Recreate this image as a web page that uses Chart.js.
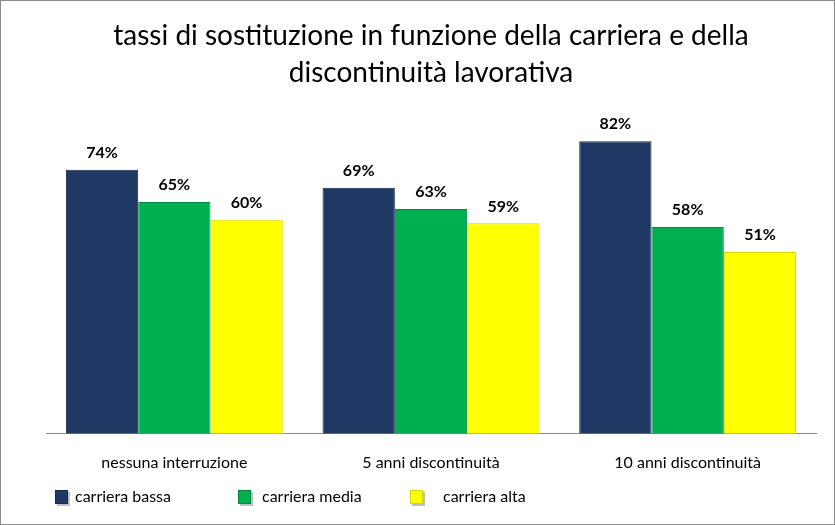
<!DOCTYPE html>
<html>
<head>
<meta charset="utf-8">
<script src="https://cdn.jsdelivr.net/npm/chart.js@4"></script>
<style>
  html, body { margin: 0; padding: 0; background: #fff; }
  #wrap { position: relative; width: 833px; height: 523px; border: 1px solid #8c8c8c; }
</style>
</head>
<body>
<div id="wrap"><canvas id="chart" width="833" height="523"></canvas></div>
<script>
// ---- DATA ----
const categories = ["nessuna interruzione", "5 anni discontinuità", "10 anni discontinuità"];
const seriesNames = ["carriera bassa", "carriera media", "carriera alta"];
const bassa = [74, 69, 82];
const media = [65, 63, 58];
const alta = [60, 59, 51];
const colors = ["#1f3864", "#00b050", "#ffff00"];
const borders = ["#16294a", "#00893f", "#d6d600"];

const FONT = "Lato, 'Liberation Sans', sans-serif";

// value labels over every bar
const valueLabels = {
  id: "valueLabels",
  afterDatasetsDraw(chart) {
    const ctx = chart.ctx;
    ctx.save();
    ctx.font = "bold 16px " + FONT;
    ctx.fillStyle = "#000";
    ctx.textAlign = "center";
    ctx.textBaseline = "bottom";
    chart.data.datasets.forEach((ds, i) => {
      chart.getDatasetMeta(i).data.forEach((bar, j) => {
        ctx.fillText(ds.data[j] + "%", bar.x, bar.y - 9);
      });
    });
    ctx.restore();
  }
};

// legend drawn by hand, spaced like the original
const sketchLegend = {
  id: "sketchLegend",
  afterDraw(chart) {
    const ctx = chart.ctx;
    const xs = [54, 237, 409];
    const txt = [74, 261, 442];
    const y = 497;
    ctx.save();
    chart.data.datasets.forEach((ds, i) => {
      ctx.fillStyle = "rgba(0,0,0,0.25)";
      ctx.fillRect(xs[i] + 2, y - 6, 13, 14);
      ctx.fillStyle = ds.backgroundColor;
      ctx.fillRect(xs[i], y - 8, 13, 14);
      ctx.strokeStyle = ds.borderColor;
      ctx.lineWidth = 1;
      ctx.strokeRect(xs[i] + 0.5, y - 7.5, 12, 13);
      ctx.font = "16px " + FONT;
      ctx.fillStyle = "#000";
      ctx.textBaseline = "middle";
      ctx.fillText(ds.label, txt[i], y - 1);
    });
    ctx.restore();
  }
};

new Chart(document.getElementById("chart"), {
  type: "bar",
  data: {
    labels: categories,
    datasets: [bassa, media, alta].map((vals, i) => ({
      label: seriesNames[i],
      data: vals,
      backgroundColor: colors[i],
      borderColor: borders[i],
      borderWidth: 1,
      barPercentage: 1,
      categoryPercentage: 0.845
    }))
  },
  options: {
    responsive: false,
    animation: false,
    devicePixelRatio: 1,
    layout: { padding: { left: 45, right: 18, top: 0, bottom: 33 } },
    plugins: {
      legend: { display: false },
      tooltip: { enabled: false },
      title: {
        display: true,
        text: ["tassi di sostituzione in funzione della carriera e della", "discontinuità lavorativa"],
        color: "#000",
        font: { family: FONT, size: 28, weight: "normal", lineHeight: 1.3 },
        padding: { top: 17, bottom: 22 }
      }
    },
    scales: {
      x: {
        grid: { display: false, drawTicks: false },
        border: { display: true, color: "#8c8c8c", width: 1 },
        ticks: { color: "#000", padding: 19, font: { family: FONT, size: 16 } }
      },
      y: {
        display: false,
        min: 0,
        max: 90
      }
    }
  },
  plugins: [valueLabels, sketchLegend]
});
</script>
</body>
</html>
